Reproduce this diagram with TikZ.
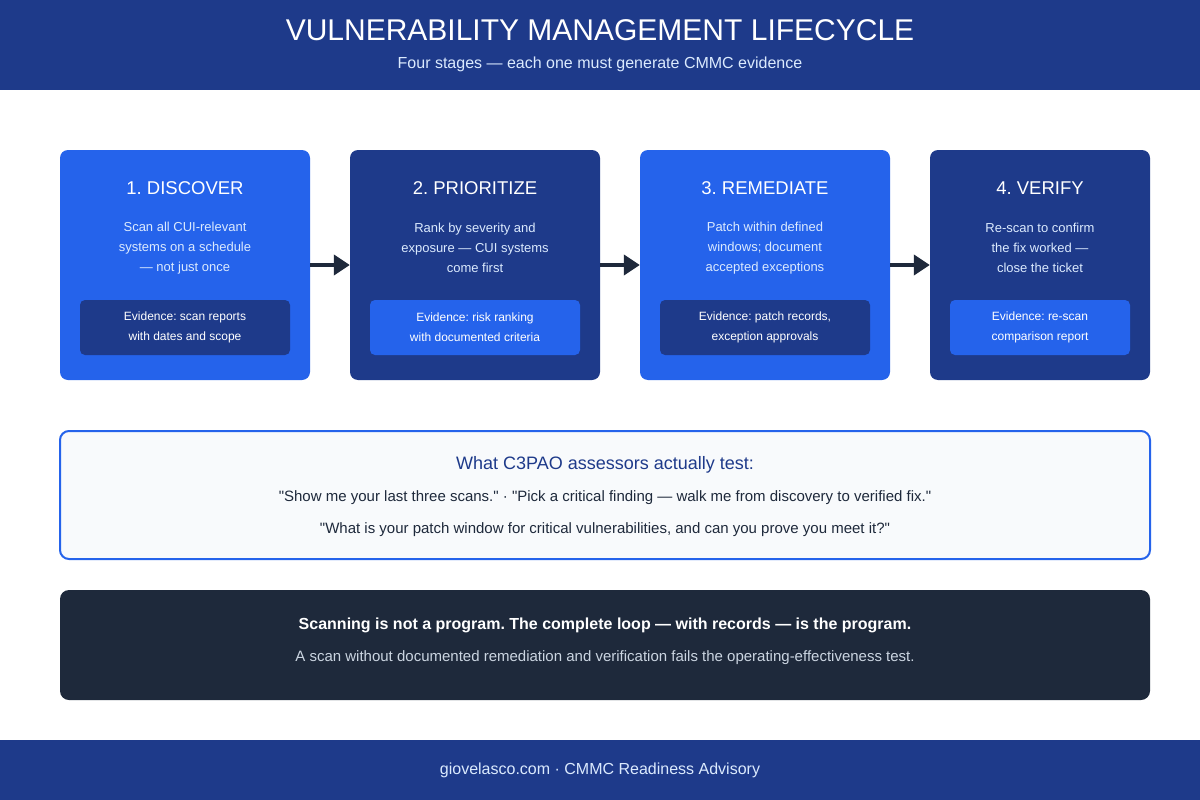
\documentclass[tikz,border=0pt]{standalone}
\usepackage{fontspec}
\setmainfont{Liberation Sans}[Ligatures=TeXOff]
\usepackage{xcolor}
\definecolor{navy}{HTML}{1E3A8A}
\definecolor{blu}{HTML}{2563EB}
\definecolor{ink}{HTML}{1E293B}
\definecolor{pale}{HTML}{F8FAFC}
\definecolor{mist}{HTML}{DBEAFE}
\definecolor{slate}{HTML}{CBD5E1}
\usetikzlibrary{arrows.meta,positioning,calc}
\tikzset{
  >={Triangle[length=16pt,width=20pt]},
  band/.style={fill=navy,draw=none},
  stage/.style={rounded corners=8pt,inner sep=0pt,minimum width=250pt,minimum height=230pt},
  evd/.style={rounded corners=5pt,inner sep=0pt,minimum width=210pt,minimum height=55pt,
    text=white,align=center,font=\fontsize{12}{20}\selectfont},
  ttl/.style={text=white,font=\fontsize{18.5}{22}\selectfont},
  dsc/.style={text=mist,align=center,font=\fontsize{13}{20}\selectfont},
  flow/.style={->,draw=ink,line width=4pt},
  panel/.style={rounded corners=9pt,inner sep=0pt,minimum width=1090pt},
}

\begin{document}
\frenchspacing
\begin{tikzpicture}[x=1pt,y=-1pt]
\useasboundingbox[fill=white] (0,0) rectangle (1200,800);
% header and footer bands
\fill[band] (0,0) rectangle (1200,90);
\node[text=white,font=\fontsize{30}{34}\selectfont] (head) at (600,30) {VULNERABILITY MANAGEMENT LIFECYCLE};
\node[text=mist,font=\fontsize{16}{19}\selectfont] (sub) at (600,64) {Four stages — each one must generate CMMC evidence};
\fill[band] (0,740) rectangle (1200,800);
\node[text=mist,font=\fontsize{16}{19}\selectfont] (foot) at (600,770) {giovelasco.com · CMMC Readiness Advisory};

% the four stages
\node[stage,fill=blu] (s1) at (185,265) {};
\node[stage,fill=navy] (s2) at (475,265) {};
\node[stage,fill=blu] (s3) at (765,265) {};
\node[stage,fill=navy,minimum width=220pt] (s4) at (1040,265) {};

\node[ttl] (t1) at (185,188) {1. DISCOVER};
\node[ttl] (t2) at (475,188) {2. PRIORITIZE};
\node[ttl] (t3) at (765,188) {3. REMEDIATE};
\node[ttl] (t4) at (1040,188) {4. VERIFY};

\node[dsc] (d1) at (185,248) {Scan all CUI-relevant\\systems on a schedule\\— not just once};
\node[dsc] (d2) at (475,248) {Rank by severity and\\exposure — CUI systems\\come first};
\node[dsc] (d3) at (765,248) {Patch within defined\\windows; document\\accepted exceptions};
\node[dsc] (d4) at (1040,248) {Re-scan to confirm\\the fix worked —\\close the ticket};

\node[evd,fill=navy] (e1) at (185,327.5) {Evidence: scan reports\\with dates and scope};
\node[evd,fill=blu] (e2) at (475,327.5) {Evidence: risk ranking\\with documented criteria};
\node[evd,fill=navy] (e3) at (765,327.5) {Evidence: patch records,\\exception approvals};
\node[evd,fill=blu,minimum width=180pt] (e4) at (1040,327.5) {Evidence: re-scan\\comparison report};

\draw[flow] (s1) -- (s2);
\draw[flow] (s2) -- (s3);
\draw[flow] (s3) -- (s4);

% assessor questions
\node[panel,fill=pale,draw=blu,line width=2pt,minimum height=128pt] (ask) at (605,495) {};
\node[text=navy,font=\fontsize{18}{21}\selectfont] (askt) at (605,465) {What C3PAO assessors actually test:};
\node[text=ink,font=\fontsize{15}{18}\selectfont] (q1) at (605,498) {"Show me your last three scans." · "Pick a critical finding — walk me from discovery to verified fix."};
\node[text=ink,font=\fontsize{15}{18}\selectfont] (q2) at (605,530) {"What is your patch window for critical vulnerabilities, and can you prove you meet it?"};

% bottom line
\node[panel,fill=ink,minimum height=110pt] (key) at (605,645) {};
\node[text=white,font=\bfseries\fontsize{16}{19}\selectfont] (k1) at (605,625) {Scanning is not a program. The complete loop — with records — is the program.};
\node[text=slate,font=\fontsize{15}{18}\selectfont] (k2) at (605,658) {A scan without documented remediation and verification fails the operating-effectiveness test.};
\end{tikzpicture}
\end{document}
